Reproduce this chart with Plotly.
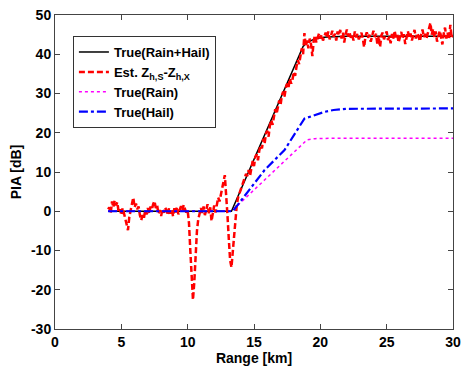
import numpy as np
import plotly.graph_objects as go

# True curves (knots)
total_range = [4.0, 13.3, 18.7, 19.0, 19.5, 20.0, 20.5, 21.0, 22.0, 30.0]
total_pia = [0.0, 0.0, 42.0, 43.0, 43.8, 44.2, 44.4, 44.5, 44.6, 44.6]

rain_range = [4.0, 13.3, 19.0, 19.6, 21.0, 30.0]
rain_pia = [0.0, 0.0, 18.2, 18.5, 18.6, 18.6]

hail_range = [4.0, 13.4, 15.8, 17.3, 18.8, 19.6, 20.3, 21.0, 22.0, 30.0]
hail_pia = [0.0, 0.0, 10.5, 15.6, 23.6, 24.6, 25.3, 25.8, 26.1, 26.2]

# Estimated PIA, every 0.1 km from 4.0 km
est_start = 4.0
est_step = 0.1
est_pia = [
    0.5, 1.0, -0.5, 2.5, 1.0, 2.8, 1.5, 2.3, -0.3, 0.5,          # 4.0
    -1.0, 0.8, -0.5, -2.0, -3.0, -4.8, -1.5, 0.2, 1.5, 3.5,      # 5.0
    1.0, 2.0, 0.5, 1.2, -1.0, -2.3, -1.0, -1.8, 0.3, -0.8,       # 6.0
    0.8, -0.5, 1.2, 0.4, 1.8, 2.6, 0.8, 1.5, -0.7, 0.3,          # 7.0
    -1.2, 0.6, -0.4, 1.0, 0.2, -1.0, 0.9, -0.6, 0.5, -1.3,       # 8.0
    0.8, -0.3, 1.1, -0.8, 0.4, 1.3, 0.2, 1.6, 0.5, -0.3,         # 9.0
    0.2, -3.0, -10.0, -17.0, -22.6, -18.0, -10.5, -5.0, -2.0, -0.8,  # 10.0
    0.8, -0.4, 1.2, -1.0, 0.5, 1.8, -0.5, 1.0, -2.5, 0.2,        # 11.0
    1.5, -0.3, 2.0, 3.5, 2.5, 4.5, 6.0, 7.5, 9.2, 5.0,           # 12.0
    -1.0, -7.0, -12.5, -14.3, -10.0, -5.0, -1.5, 1.5, 3.5, 4.5,  # 13.0
    5.5, 6.8, 7.5, 8.7, 9.5, 9.0, 10.5, 9.0, 11.5, 12.8,         # 14.0
    11.5, 13.8, 14.5, 13.0, 15.5, 16.8, 16.0, 18.5, 17.2, 19.8,  # 15.0
    20.5, 19.0, 22.0, 23.2, 22.0, 24.5, 26.0, 24.8, 27.0, 28.2,  # 16.0
    27.0, 29.5, 30.5, 29.2, 31.5, 32.5, 31.5, 33.8, 32.5, 33.5,  # 17.0
    35.5, 34.5, 36.8, 38.5, 37.5, 40.0, 41.5, 40.0, 45.4, 42.0,  # 18.0
    43.5, 41.5, 44.0, 42.5, 39.5, 43.5, 44.8, 43.0, 44.5, 45.3,  # 19.0
    44.0, 45.0, 43.5, 44.8, 45.5, 44.2, 45.8, 43.8, 44.6, 46.0,  # 20.0
    44.5, 45.2, 43.5, 45.8, 44.8, 46.2, 44.0, 45.5, 43.0, 45.0,  # 21.0
    46.3, 44.5, 45.6, 44.2, 45.0, 43.5, 45.8, 44.3, 45.2, 43.8,  # 22.0
    44.8, 45.5, 44.0, 41.8, 44.5, 45.6, 44.2, 45.0, 43.2, 44.8,  # 23.0
    46.0, 44.4, 45.2, 42.5, 44.6, 41.8, 44.8, 45.5, 43.8, 44.9,  # 24.0
    45.8, 43.6, 44.5, 42.8, 45.2, 44.0, 46.0, 44.3, 45.0, 43.0,  # 25.0
    44.6, 45.7, 43.9, 45.1, 42.6, 44.7, 45.9, 44.2, 45.3, 43.5,  # 26.0
    44.9, 46.2, 44.0, 45.4, 44.6, 43.3, 45.0, 46.3, 44.4, 45.2,  # 27.0
    44.0, 45.5, 47.2, 48.0, 45.0, 46.5, 44.3, 45.8, 43.2, 44.6,  # 28.0
    46.0, 44.5, 42.5, 45.2, 46.8, 44.0, 45.5, 43.8, 47.5, 44.2,  # 29.0
    45.0,                                                          # 30.0
]
est_range = np.round(est_start + est_step * np.arange(len(est_pia)), 1)

x_ticks = [0, 5, 10, 15, 20, 25, 30]
x_ticktext = ["0", "5", "10", "15", "20", "25", "30"]
y_ticks = [-30, -20, -10, 0, 10, 20, 30, 40, 50]
y_ticktext = ["-30", "-20", "-10", "0", "10", "20", "30", "40", "50"]

fig = go.Figure()
fig.add_trace(go.Scatter(x=total_range, y=total_pia, mode="lines",
                         name="True(Rain+Hail)",
                         line=dict(color="black", width=1.5)))
fig.add_trace(go.Scatter(x=est_range, y=est_pia, mode="lines",
                         name="Est. Z<sub>h,S</sub>-Z<sub>h,X</sub>",
                         line=dict(color="#ff0000", width=2.5, dash="6px,3px")))
fig.add_trace(go.Scatter(x=rain_range, y=rain_pia, mode="lines",
                         name="True(Rain)",
                         line=dict(color="#ff00ff", width=1.5, dash="dot")))
fig.add_trace(go.Scatter(x=hail_range, y=hail_pia, mode="lines",
                         name="True(Hail)",
                         line=dict(color="#0000ff", width=2.2, dash="dashdot")))

axis_common = dict(showline=True, linecolor="#444444", linewidth=1, mirror="ticks",
                   ticks="inside", ticklen=5, tickcolor="#444444",
                   showgrid=False, zeroline=False, automargin=False,
                   ticklabeloverflow="allow",
                   tickfont=dict(size=14, weight="bold"))

fig.update_layout(
    width=461, height=368,
    margin=dict(l=55, r=8, t=15, b=39, autoexpand=False),
    paper_bgcolor="white", plot_bgcolor="white",
    font=dict(family="Liberation Sans, Arial, sans-serif", size=14, color="black", weight="bold"),
    xaxis=dict(range=[0, 30], tickvals=x_ticks, ticktext=x_ticktext,
               title=dict(text="Range [km]", standoff=0, font=dict(size=14, weight="bold")),
               **axis_common),
    yaxis=dict(range=[-30, 50], tickvals=y_ticks, ticktext=y_ticktext,
               title=dict(text="PIA [dB]", standoff=6, font=dict(size=14, weight="bold")),
               **axis_common),
    legend=dict(x=0.045, y=0.933, xanchor="left", yanchor="top",
                bordercolor="#333333", borderwidth=1, bgcolor="white",
                font=dict(size=13, weight="bold"), tracegroupgap=0),
    showlegend=True,
)

fig.write_html("out.html",
               config={"displayModeBar": False, "staticPlot": True},
               post_script="document.body.style.margin='0px';document.body.style.overflow='hidden';")
